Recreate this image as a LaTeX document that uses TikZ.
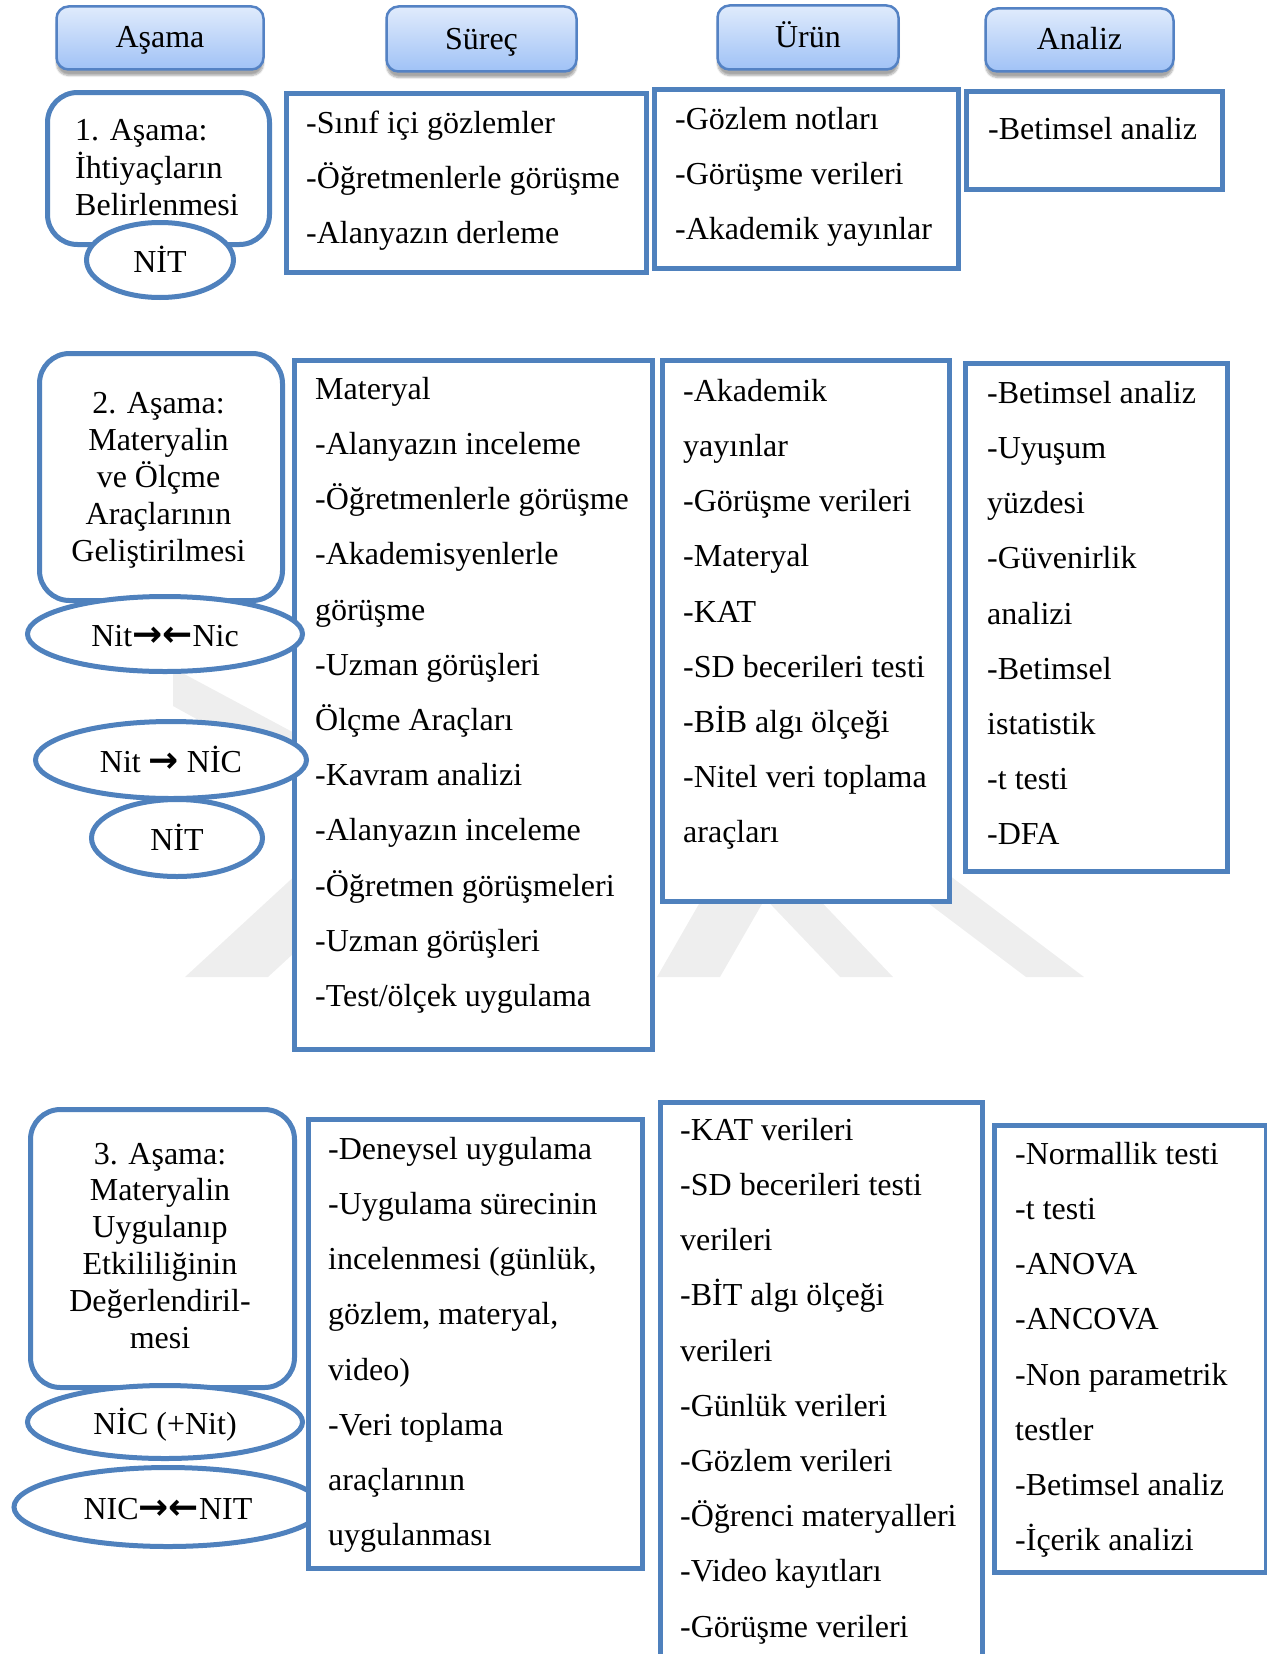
\documentclass[tikz,border=0pt]{standalone}
\usepackage{fontspec}
\setmainfont{Liberation Serif}
\newfontfamily\arrowfont{DejaVu Sans}
\usetikzlibrary{shapes.geometric,shadows.blur}

\definecolor{boxline}{RGB}{79,129,189}
\definecolor{hdrline}{RGB}{84,130,196}
\definecolor{hdrtop}{RGB}{224,235,252}
\definecolor{hdrbot}{RGB}{160,194,246}
\definecolor{markgray}{RGB}{238,238,238}

\newcommand\rgtarrow{{\arrowfont\bfseries\fontsize{36}{36}\selectfont →}}
\newcommand\lftarrow{{\arrowfont\bfseries\fontsize{36}{36}\selectfont ←}}

\begin{document}
\begin{tikzpicture}[x=1pt, y=-1pt,
  hdr/.style={draw=hdrline, line width=2.5pt, rounded corners=12pt,
    top color=hdrtop, bottom color=hdrbot,
    blur shadow={shadow xshift=0pt, shadow yshift=-6pt, shadow blur steps=8, shadow opacity=35},
    font=\fontsize{32}{36}\selectfont, text height=26pt, text depth=6pt, inner sep=0pt},
  stagebox/.style={draw=boxline, line width=5pt, rounded corners=30pt, fill=white,
    anchor=north west, inner sep=0pt},
  stagetext/.style={inner sep=0pt},
  tag/.style={ellipse, draw=boxline, line width=5pt, fill=white, inner sep=0pt,
    text height=30pt, text depth=6pt, font=\fontsize{32}{36}\selectfont},
  listbox/.style={draw=boxline, line width=5pt, fill=white, anchor=north west, inner sep=0pt},
  listtext/.style={anchor=north west, inner sep=0pt, align=left,
    font=\fontsize{32}{55.2}\selectfont},
]
\useasboundingbox (0,0) rectangle (1266,1654);

% ---------- faint background emblem (mostly hidden by the boxes) ----------
\fill[markgray] (173,668) -- (300,736) -- (300,776) -- (173,706) -- cycle;
\fill[markgray] (185,977) -- (268,977) -- (395,860) -- (312,860) -- cycle;
\fill[markgray] (1026,977) -- (1084,977) -- (929,860) -- (871,860) -- cycle;
\fill[markgray] (657,977) -- (720,977) -- (770,890) -- (707,890) -- cycle;
\fill[markgray] (840,977) -- (893,977) -- (810,890) -- (757,890) -- cycle;

% ---------- column headers ----------
\node[hdr, minimum width=207pt, minimum height=63pt] (hA) at (160,38) {Aşama};
\node[hdr, minimum width=190pt, minimum height=65pt] (hS) at (481.5,39) {Süreç};
\node[hdr, minimum width=181pt, minimum height=64pt] (hU) at (808,37.5) {Ürün};
\node[hdr, minimum width=188pt, minimum height=63pt] (hN) at (1079.5,40) {Analiz};

% ---------- stage 1 ----------
\node[stagebox, minimum width=222pt, minimum height=152pt] (r1) at (45,90) {};
\node[stagetext, anchor=north west, align=left, font=\fontsize{32}{36.5}\selectfont]
  (r1t) at (75,114.45) {\strut 1. Aşama:\\İhtiyaçların\\Belirlenmesi};
\node[tag, minimum width=147pt, minimum height=75pt] (e1) at (160,260) {NİT};

\node[listbox, minimum width=360pt, minimum height=179pt] (s1) at (284,91) {};
\node[listtext] (s1t) at (306,94.36)
  {\strut -Sınıf içi gözlemler\\-Öğretmenlerle görüşme\\-Alanyazın derleme};
\node[listbox, minimum width=304pt, minimum height=179pt] (u1) at (652,87) {};
\node[listtext] (u1t) at (675,90.36)
  {\strut -Gözlem notları\\-Görüşme verileri\\-Akademik yayınlar};
\node[listbox, minimum width=256pt, minimum height=98pt] (a1) at (964,89) {};
\node[listtext] (a1t) at (988,100.36) {\strut -Betimsel analiz};

% ---------- stage 2 ----------
\node[listbox, minimum width=358pt, minimum height=689pt] (s2) at (292,358) {};
\node[listtext] (s2t) at (315,360.36)
  {\strut Materyal\\-Alanyazın inceleme\\-Öğretmenlerle görüşme\\-Akademisyenlerle\\görüşme\\-Uzman görüşleri\\Ölçme Araçları\\-Kavram analizi\\-Alanyazın inceleme\\-Öğretmen görüşmeleri\\-Uzman görüşleri\\-Test/ölçek uygulama};

\node[stagebox, minimum width=243pt, minimum height=247pt] (r2) at (37,351) {};
\node[stagetext, anchor=north, align=center, font=\fontsize{32}{37}\selectfont]
  (r2t) at (158.5,387.1) {\strut 2. Aşama:\\Materyalin\\ve Ölçme\\Araçlarının\\Geliştirilmesi};
\node[tag, minimum width=275pt, minimum height=75pt] (e2a) at (165,634) {Nit\rgtarrow\lftarrow Nic};
\node[tag, minimum width=271pt, minimum height=77pt] (e2b) at (171,760) {Nit \rgtarrow{} NİC};
\node[tag, minimum width=171pt, minimum height=77pt] (e2c) at (177,838) {NİT};

\node[listbox, minimum width=287pt, minimum height=541pt] (u2) at (660,358) {};
\node[listtext] (u2t) at (683,362.36)
  {\strut -Akademik\\yayınlar\\-Görüşme verileri\\-Materyal\\-KAT\\-SD becerileri testi\\-BİB algı ölçeği\\-Nitel veri toplama\\araçları};
\node[listbox, minimum width=262pt, minimum height=508pt] (a2) at (963,361) {};
\node[listtext] (a2t) at (987,364.36)
  {\strut -Betimsel analiz\\-Uyuşum\\yüzdesi\\-Güvenirlik\\analizi\\-Betimsel\\istatistik\\-t testi\\-DFA};

% ---------- stage 3 ----------
\node[stagebox, minimum width=264pt, minimum height=278pt] (r3) at (28,1107) {};
\node[stagetext, anchor=north, align=center, font=\fontsize{32}{36.8}\selectfont]
  (r3t) at (160,1138.2) {\strut 3. Aşama:\\Materyalin\\Uygulanıp\\Etkililiğinin\\Değerlendiril-\\mesi};
\node[tag, minimum width=275pt, minimum height=73pt] (e3a) at (165,1422) {NİC (+Nit)};
\node[tag, minimum width=308pt, minimum height=79pt] (e3b) at (168,1507) {NIC\rgtarrow\lftarrow NIT};

\node[listbox, minimum width=334pt, minimum height=449pt] (s3) at (306,1117) {};
\node[listtext] (s3t) at (328,1120.36)
  {\strut -Deneysel uygulama\\-Uygulama sürecinin\\incelenmesi (günlük,\\gözlem, materyal,\\video)\\-Veri toplama\\araçlarının\\uygulanması};
\node[listbox, minimum width=322pt, minimum height=600pt] (u3) at (658,1100) {};
\node[listtext] (u3t) at (680,1101.36)
  {\strut -KAT verileri\\-SD becerileri testi\\verileri\\-BİT algı ölçeği\\verileri\\-Günlük verileri\\-Gözlem verileri\\-Öğrenci materyalleri\\-Video kayıtları\\-Görüşme verileri};
\node[listbox, minimum width=272pt, minimum height=447pt] (a3) at (992,1123) {};
\node[listtext] (a3t) at (1015,1125.36)
  {\strut -Normallik testi\\-t testi\\-ANOVA\\-ANCOVA\\-Non parametrik\\testler\\-Betimsel analiz\\-İçerik analizi};
\end{tikzpicture}
\end{document}
